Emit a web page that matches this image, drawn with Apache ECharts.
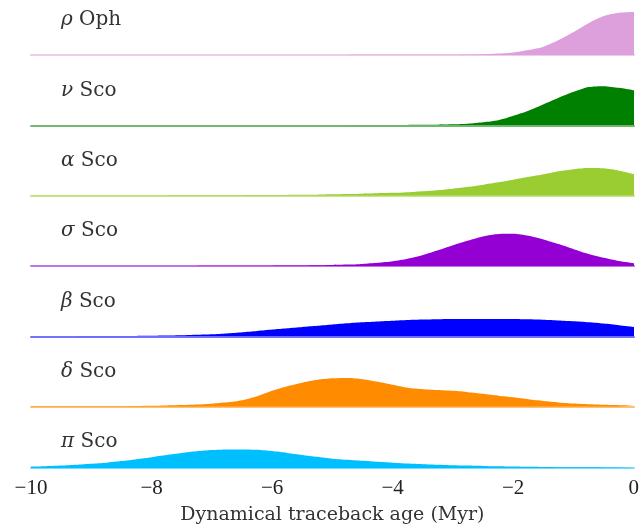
<!DOCTYPE html>
<html>
<head>
<meta charset="utf-8">
<script src="https://cdn.jsdelivr.net/npm/echarts@6/dist/echarts.min.js"></script>
<style>html,body{margin:0;padding:0;background:#fff}#c{width:642px;height:526px}</style>
</head>
<body>
<div id="c"></div>
<script>
// x grid: -10 to 0 step 0.25
const ages = [];
for (let i = 0; i <= 40; i++) ages.push(-10 + i * 0.25);

const xTicks = [-10, -8, -6, -4, -2, 0];
const xLabel = 'Dynamical traceback age (Myr)';

const names = [['ρ', 'Oph'], ['ν', 'Sco'], ['α', 'Sco'], ['σ', 'Sco'], ['β', 'Sco'], ['δ', 'Sco'], ['π', 'Sco']];
const colors = ['#DDA0DD', '#008000', '#9ACD32', '#9400D3', '#0000FF', '#FF8C00', '#00BFFF'];

// density (relative) at each age
const rhoOph = [0.05,0.05,0.05,0.05,0.05,0.05,0.05,0.05,0.05,0.05,0.05,0.05,0.05,0.05,0.05,0.05,0.08,0.08,0.1,0.1,0.1,0.12,0.15,0.15,0.2,0.2,0.25,0.3,0.3,0.5,0.8,1.5,2.6,5,8.3,15,23,32,39,42.3,43];
const nuSco = [0.1,0.1,0.1,0.1,0.1,0.1,0.1,0.1,0.1,0.1,0.1,0.1,0.12,0.12,0.12,0.15,0.15,0.15,0.2,0.2,0.2,0.2,0.25,0.3,0.3,0.4,0.5,0.7,1,1.6,3,5,9.5,14.5,21,27.5,33.5,38.3,39.2,37.5,35];
const alphaSco = [0.1,0.1,0.12,0.12,0.15,0.15,0.2,0.2,0.25,0.25,0.3,0.35,0.4,0.45,0.5,0.55,0.6,0.7,0.8,1,1.3,1.6,2,2.4,2.8,3.5,4.5,5.5,7,8.8,11,13.4,16,18.8,21.5,24.5,26.5,27.6,27.3,25,21.7];
const sigmaSco = [0.05,0.05,0.05,0.05,0.05,0.05,0.05,0.08,0.08,0.1,0.1,0.1,0.12,0.15,0.2,0.25,0.3,0.4,0.5,0.7,1,1.4,2.1,3.2,4.8,7.3,11,15.7,20.8,25.5,29.6,32,32.2,30.2,26.6,21.9,16.8,12,8.2,5,2.8];
const betaSco = [0.1,0.12,0.15,0.18,0.2,0.25,0.3,0.4,0.5,0.7,1,1.5,2,2.8,4,5.3,6.7,8,9.3,10.5,11.8,13,14,14.8,15.5,16.2,16.7,17,17.2,17.3,17.4,17.4,17.3,17,16.5,15.8,15,14,12.7,11,9.2];
const deltaSco = [0.3,0.3,0.35,0.4,0.45,0.5,0.5,0.7,0.9,1.2,1.6,2.2,3,4.3,6.5,10.5,16,20.5,24,26.8,28.3,28.7,27.5,25,22,19,17.5,16.6,15.8,14.5,12.8,11,9.3,7.3,5.6,4.2,3.1,2.4,1.9,1.5,1.3];
const piSco = [1.7,2.2,3,4,5.2,6.5,8.4,10.8,13.2,15.8,18.2,20.3,21.8,22.6,22.7,22.2,20.6,18.4,15.9,13.6,11.4,10,8.7,7.5,6.4,5.4,4.6,4,3.4,2.9,2.4,2,1.7,1.4,1.2,1,0.9,0.8,0.7,0.6,0.5];

const seriesData = [rhoOph, nuSco, alphaSco, sigmaSco, betaSco, deltaSco, piSco];

const FONT = 'Liberation Serif';
const FONT2 = 'DejaVu Serif';
const baseline0 = 55, step = 70.33, gh = 50;
const grids = [], xAxes = [], yAxes = [], series = [], titles = [];
seriesData.forEach((vals, i) => {
  const base = baseline0 + step * i;
  const last = i === seriesData.length - 1;
  grids.push({ left: 31, right: 8, top: base - gh, height: gh });
  xAxes.push({
    type: 'value', gridIndex: i, min: -10, max: 0, interval: 2,
    axisLine: { show: true, lineStyle: { color: colors[i], opacity: 0.55, width: 2 } },
    axisTick: { show: false }, splitLine: { show: false },
    axisLabel: {
      show: last, margin: 10, color: '#222', fontFamily: FONT, fontSize: 21,
      formatter: v => (v < 0 ? '\u2212' + Math.abs(v) : String(v))
    },
    name: last ? xLabel : '', nameLocation: 'middle', nameGap: 38,
    nameTextStyle: { color: '#333', fontFamily: FONT2, fontSize: 19 }
  });
  yAxes.push({ type: 'value', gridIndex: i, min: 0, max: gh, show: false });
  series.push({
    type: 'line', xAxisIndex: i, yAxisIndex: i,
    data: ages.map((a, k) => [a, vals[k]]),
    smooth: 0.25, symbol: 'none',
    lineStyle: { width: 0 },
    areaStyle: { color: colors[i], opacity: 1 },
    silent: true, z: 3
  });
  titles.push({
    text: '{g|' + names[i][0] + '} ' + names[i][1],
    left: 61, top: base - 45, padding: 0,
    textStyle: {
      fontFamily: FONT2, fontSize: 20, fontWeight: 'normal', color: '#333',
      rich: { g: { fontFamily: FONT2, fontSize: 20, fontStyle: 'italic', color: '#333' } }
    }
  });
});

const chart = echarts.init(document.getElementById('c'), null, { renderer: 'canvas' });
chart.setOption({
  animation: false,
  backgroundColor: '#fff',
  title: titles,
  grid: grids, xAxis: xAxes, yAxis: yAxes, series: series
});
</script>
</body>
</html>
